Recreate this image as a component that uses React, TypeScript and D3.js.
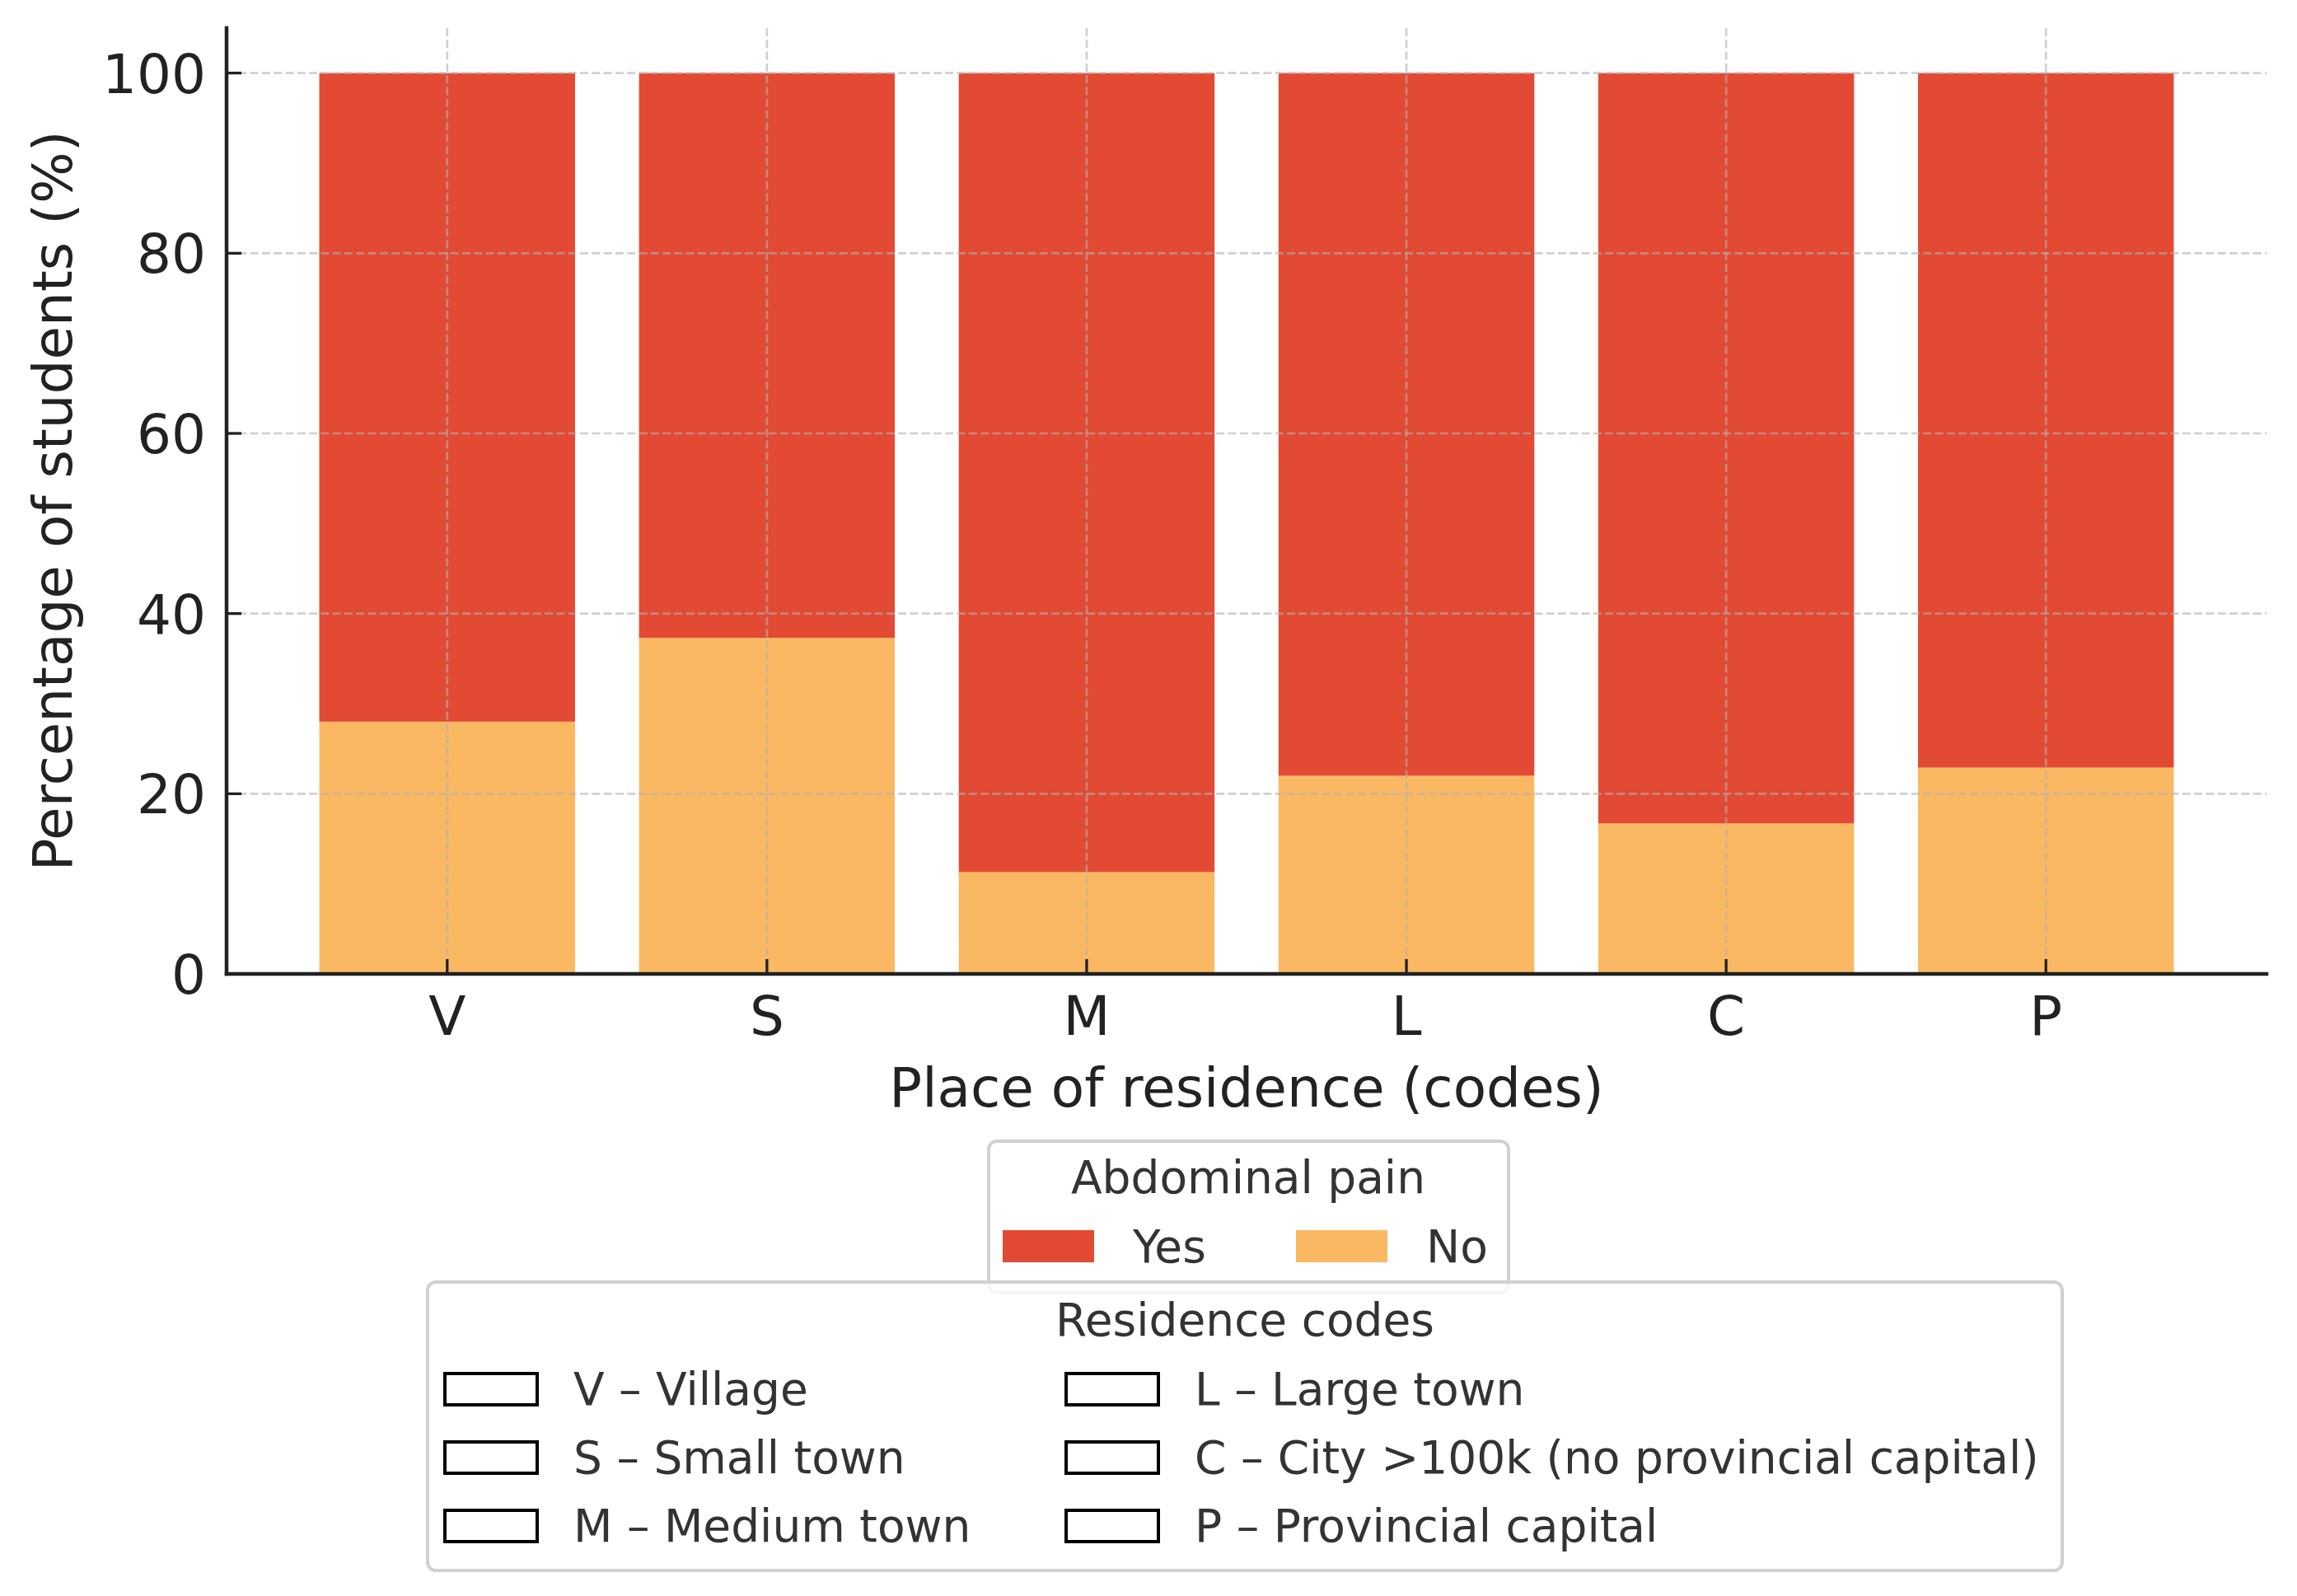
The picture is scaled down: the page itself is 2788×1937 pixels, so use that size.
import * as d3 from "d3";

// data
const codes = ["V", "S", "M", "L", "C", "P"];
const noPain = [28.0, 37.3, 11.3, 22.0, 16.7, 22.9];
const yesPain = noPain.map((v) => 100 - v);
const yTicks = [0, 20, 40, 60, 80, 100];
const painLabels = ["Yes", "No"];
const residenceLabels = [
  "V – Village",
  "S – Small town",
  "M – Medium town",
  "L – Large town",
  "C – City >100k (no provincial capital)",
  "P – Provincial capital",
];

const W = 2788;
const H = 1937;
const FONT = "DejaVu Sans";
const RED = "#E34A33";
const ORANGE = "#FBB863";
const INK = "#222222";
const LEG_INK = "#333333";

const plot = { l: 275, r: 2751, t: 34, b: 1182 };

export default function App() {
  const x = d3.scaleLinear().domain([-0.69, 5.69]).range([plot.l, plot.r]);
  const y = d3.scaleLinear().domain([0, 105]).range([plot.b, plot.t]);
  const bw = x(0.8) - x(0);

  const legFill = [RED, ORANGE];

  return (
    <div style={{ position: "absolute", left: 0, top: 0 }}>
      <svg width={W} height={H} style={{ display: "block", background: "#fff" }} fontFamily={FONT}>
        {/* bars */}
        <g>
          {codes.map((c, i) => (
            <g key={c}>
              <rect x={x(i) - bw / 2} width={bw} y={y(noPain[i])} height={y(0) - y(noPain[i])} fill={ORANGE} />
              <rect
                x={x(i) - bw / 2}
                width={bw}
                y={y(noPain[i] + yesPain[i])}
                height={y(noPain[i]) - y(noPain[i] + yesPain[i])}
                fill={RED}
              />
            </g>
          ))}
        </g>

        {/* grid on top of bars */}
        <g stroke="#b0b0b0" strokeOpacity={0.6} strokeWidth={2.7} strokeDasharray="10,4.3">
          {yTicks.map((t) => (
            <line key={t} x1={plot.l} x2={plot.r} y1={y(t)} y2={y(t)} />
          ))}
          {codes.map((c, i) => (
            <line key={c} x1={x(i)} x2={x(i)} y1={plot.t} y2={plot.b} />
          ))}
        </g>

        {/* ticks (inward) */}
        <g stroke={INK} strokeWidth={3.3}>
          {yTicks.map((t) => (
            <line key={t} x1={plot.l} x2={plot.l + 18} y1={y(t)} y2={y(t)} />
          ))}
          {codes.map((c, i) => (
            <line key={c} x1={x(i)} x2={x(i)} y1={plot.b} y2={plot.b - 18} />
          ))}
        </g>

        {/* spines */}
        <g stroke={INK} strokeWidth={4.5} strokeLinecap="square">
          <line x1={plot.l} x2={plot.l} y1={plot.t} y2={plot.b} />
          <line x1={plot.l} x2={plot.r} y1={plot.b} y2={plot.b} />
        </g>

        {/* tick labels */}
        <g fontSize={66} fill={INK}>
          {yTicks.map((t) => (
            <text key={t} x={plot.l - 25} y={y(t) + 24} textAnchor="end">
              {t}
            </text>
          ))}
          {codes.map((c, i) => (
            <text key={c} x={x(i)} y={plot.b + 74} textAnchor="middle">
              {c}
            </text>
          ))}
        </g>

        {/* axis labels */}
        <text x={(plot.l + plot.r) / 2} y={1343} textAnchor="middle" fontSize={66} fill={INK}>
          Place of residence (codes)
        </text>
        <text
          transform={`translate(87,${(plot.t + plot.b) / 2}) rotate(-90)`}
          textAnchor="middle"
          fontSize={66}
          fill={INK}
        >
          Percentage of students (%)
        </text>

        {/* legend: Abdominal pain */}
        <g fontSize={55} fill={LEG_INK}>
          <rect x={1200} y={1385} width={631} height={184} rx={10} fill="#fff" fillOpacity={0.8} stroke="#d0d0d0" strokeWidth={4} />
          <text x={1515} y={1448} textAnchor="middle">
            Abdominal pain
          </text>
          {painLabels.map((lab, i) => {
            const hx = [1217, 1573][i];
            return (
              <g key={lab}>
                <rect x={hx} y={1493} width={111} height={39} fill={legFill[i]} />
                <text x={hx + 158} y={1532}>
                  {lab}
                </text>
              </g>
            );
          })}
        </g>

        {/* legend: Residence codes */}
        <g fontSize={55} fill={LEG_INK}>
          <rect x={519} y={1556} width={1984} height={350} rx={10} fill="#fff" fillOpacity={0.8} stroke="#d0d0d0" strokeWidth={4} />
          <text x={1511} y={1621} textAnchor="middle">
            Residence codes
          </text>
          {residenceLabels.map((lab, i) => {
            const col = Math.floor(i / 3);
            const row = i % 3;
            const hx = [540, 1294][col];
            const cy = 1686 + row * 83;
            return (
              <g key={lab}>
                <rect x={hx} y={cy - 19} width={112} height={38} fill="#fff" stroke="#000" strokeWidth={4} />
                <text x={hx + 156} y={cy + 19}>
                  {lab}
                </text>
              </g>
            );
          })}
        </g>
      </svg>
    </div>
  );
}
